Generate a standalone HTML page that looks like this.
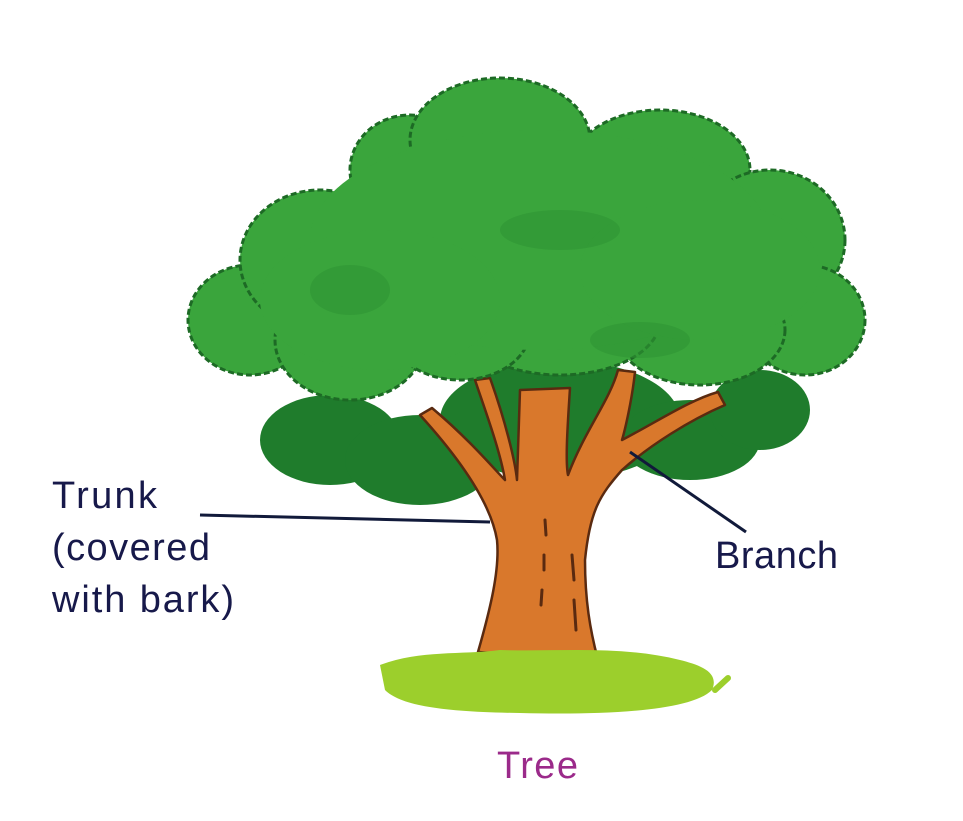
<!DOCTYPE html>
<html><head><meta charset="utf-8"><style>
html,body{margin:0;padding:0;background:#fff;}
svg{display:block}
text{font-family:"Liberation Sans",sans-serif;}
</style></head><body>
<svg width="963" height="821" viewBox="0 0 963 821" xmlns="http://www.w3.org/2000/svg">
<rect width="963" height="821" fill="#fff"/>
<!-- dark under-canopy -->
<g fill="#1f7c2c">
<ellipse cx="330" cy="440" rx="70" ry="45"/>
<ellipse cx="420" cy="460" rx="75" ry="45"/>
<ellipse cx="560" cy="420" rx="120" ry="60"/>
<ellipse cx="690" cy="440" rx="70" ry="40"/>
<ellipse cx="760" cy="410" rx="50" ry="40"/>
</g>
<!-- trunk -->
<g fill="#d9782c" stroke="#5a2a10" stroke-width="2.5" stroke-linejoin="round">
<path d="M478,652 C490,610 500,570 497,540 C492,510 470,470 420,415 L432,408 C470,440 495,470 505,480 C500,450 485,410 475,380 L490,378 C505,420 515,460 517,480 L520,390 L570,388 C568,420 565,460 568,475 C585,430 610,400 618,370 L635,372 C632,400 625,430 622,440 C660,420 690,400 718,392 L725,405 C690,420 650,445 622,470 C600,495 590,510 585,560 C585,600 590,630 598,660 Z"/>
</g>
<g stroke="#5a2a10" stroke-width="3" fill="none" stroke-linecap="round">
<path d="M545,520 L546,535 M544,555 L544,570 M542,590 L541,605"/>
<path d="M572,555 L574,580 M574,600 L576,630"/>
</g>
<!-- main canopy -->
<g fill="#3aa53c" stroke="#1d6a25" stroke-width="3" stroke-dasharray="6 3">
<ellipse cx="250" cy="320" rx="62" ry="55"/>
<ellipse cx="320" cy="260" rx="80" ry="70"/>
<ellipse cx="350" cy="340" rx="75" ry="60"/>
<ellipse cx="410" cy="170" rx="60" ry="55"/>
<ellipse cx="500" cy="140" rx="90" ry="62"/>
<ellipse cx="660" cy="170" rx="90" ry="60"/>
<ellipse cx="770" cy="240" rx="75" ry="70"/>
<ellipse cx="805" cy="320" rx="60" ry="55"/>
<ellipse cx="700" cy="330" rx="85" ry="55"/>
<ellipse cx="560" cy="320" rx="100" ry="55"/>
<ellipse cx="460" cy="330" rx="70" ry="50"/>
</g>
<g fill="#3aa53c">
<ellipse cx="540" cy="240" rx="230" ry="110"/>
<ellipse cx="380" cy="300" rx="120" ry="70"/>
<ellipse cx="700" cy="270" rx="120" ry="70"/>
</g>
<g fill="#2f9434" opacity="0.6">
<ellipse cx="560" cy="230" rx="60" ry="20"/>
<ellipse cx="350" cy="290" rx="40" ry="25"/>
<ellipse cx="640" cy="340" rx="50" ry="18"/>
</g>
<!-- grass -->
<path d="M380,665 C420,650 460,655 500,650 C560,652 620,645 680,660 C700,665 720,672 712,690 C690,712 600,715 520,713 C440,712 400,705 385,690 Z" fill="#9ccf2c"/>
<path d="M715,690 L728,678" stroke="#9ccf2c" stroke-width="6" stroke-linecap="round"/>
<!-- leaders -->
<line x1="200" y1="515" x2="490" y2="522" stroke="#111a3a" stroke-width="3"/>
<line x1="630" y1="452" x2="746" y2="532" stroke="#111a3a" stroke-width="3"/>
<!-- labels -->
<g fill="#17194a" font-size="38">
<text x="52" y="508" textLength="105">Trunk</text>
<text x="52" y="560" textLength="158">(covered</text>
<text x="52" y="612" textLength="182">with bark)</text>
<text x="715" y="568" textLength="123">Branch</text>
</g>
<text x="497" y="778" font-size="38" fill="#9b2a8a" textLength="81">Tree</text>
</svg>
</body></html>
